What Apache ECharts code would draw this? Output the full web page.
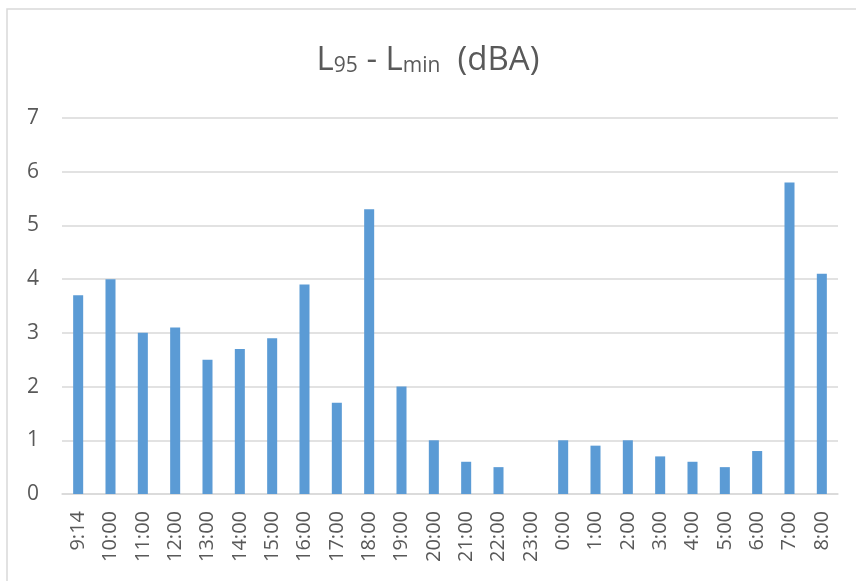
<!DOCTYPE html>
<html><head><meta charset="utf-8">
<script src="https://cdn.jsdelivr.net/npm/echarts@6/dist/echarts.min.js"></script>
<style>html,body{margin:0;padding:0;background:#fff}#c{width:856px;height:581px}</style>
</head><body><div id="c"></div>
<script>
var categories = ['9:14','10:00','11:00','12:00','13:00','14:00','15:00','16:00','17:00','18:00','19:00','20:00','21:00','22:00','23:00','0:00','1:00','2:00','3:00','4:00','5:00','6:00','7:00','8:00'];
var values = [3.7,4.0,3.0,3.1,2.5,2.7,2.9,3.9,1.7,5.3,2.0,1.0,0.6,0.5,0,1.0,0.9,1.0,0.7,0.6,0.5,0.8,5.8,4.1];
var yTicks = [0,1,2,3,4,5,6,7];

var chart = echarts.init(document.getElementById('c'), null, {renderer:'canvas'});
var font = 'Open Sans';
chart.setOption({
  animation:false,
  backgroundColor:'#fff',
  title:{
    text:'{b|L}{s|95}{b| - L}{s|min}{b|  (dBA)}',
    left:'center', top:39,
    textStyle:{rich:{
      b:{fontSize:33,color:'#595959',fontFamily:font,fontWeight:'normal'},
      s:{fontSize:21,color:'#595959',fontFamily:font,fontWeight:'normal',verticalAlign:'bottom',padding:[10,0,0,0]}
    }}
  },
  graphic:[{type:'rect',shape:{x:7,y:9,width:900,height:700},style:{fill:'none',stroke:'#d9d9d9',lineWidth:1.5},silent:true}],
  grid:{left:62,right:18,top:118,bottom:87},
  xAxis:{
    type:'category', data:categories,
    axisLine:{lineStyle:{color:'#d9d9d9',width:1.5}},
    axisTick:{show:false},
    axisLabel:{rotate:90,fontSize:20,color:'#595959',fontFamily:font,margin:17,interval:0}
  },
  yAxis:{
    type:'value', min:yTicks[0], max:yTicks[yTicks.length-1], interval:1,
    axisLine:{show:false}, axisTick:{show:false},
    splitLine:{lineStyle:{color:'#d9d9d9',width:1.5}},
    axisLabel:{fontSize:21,color:'#595959',fontFamily:font,margin:23}
  },
  series:[{type:'bar',data:values,barWidth:'31%',itemStyle:{color:'#5B9BD5'}}]
});
</script></body></html>
